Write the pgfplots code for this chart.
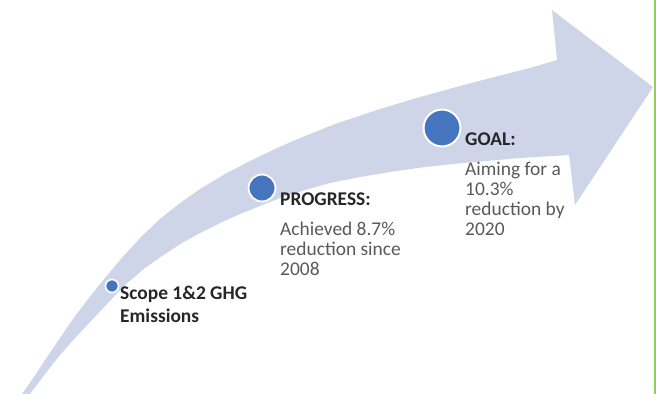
\documentclass[border=0pt]{standalone}
\usepackage{pgfplots}
\pgfplotsset{compat=1.18}
\usepackage{fontspec}
\setmainfont{Carlito}
\definecolor{arrowfill}{RGB}{207,213,232}
\definecolor{dotblue}{RGB}{70,117,192}
\definecolor{darktext}{RGB}{38,38,38}
\definecolor{bodytext}{RGB}{89,89,89}
\definecolor{edgegreen}{RGB}{146,208,80}
\begin{document}
\begin{tikzpicture}
\path[use as bounding box] (0,0) rectangle (656bp,394bp);
\begin{axis}[width=656bp,height=394bp,scale only axis,
  xmin=0,xmax=656,ymin=0,ymax=394,y dir=reverse,hide axis,clip=false,
  anchor=south west,at={(0,0)}]
% arrow shape
\addplot[fill=arrowfill,draw=none] coordinates {
(22,394)(34,377)(45,360)(58,341)(70,323)(85,303)(100,284)(120,260)(140,238)(160,219)(180,203)(200,189)(225,174)(250,161)(275,149)(300,138)(335,124)(380,109)(420,97)(460,86)(502,75)(530,68)(557,60)
(552,10)(653,87)(575,205)(569,155)
(520,158)(463,163)(425,167)(390,172)(360,177)(330,183)(305,190)(280,198)(260,206)(240,214)(220,223)(200,233)(182,243)(165,254)(145,268)(125,285)(108,303)(90,322)(75,338)(60,355)(45,374)(30,394)
} -- cycle;
% milestone dots
\addplot[only marks,mark=*,mark size=6.5pt,mark options={fill=dotblue,draw=white,line width=1.6pt}] coordinates {(112,286)};
\addplot[only marks,mark=*,mark size=13.5pt,mark options={fill=dotblue,draw=white,line width=1.8pt}] coordinates {(262,188)};
\addplot[only marks,mark=*,mark size=18.5pt,mark options={fill=dotblue,draw=white,line width=2pt}] coordinates {(442,128)};
% right border
\addplot[draw=edgegreen,line width=2.5bp] coordinates {(655,0) (655,394)};
\tikzset{every node/.style={inner sep=0pt,anchor=base west,font=\fontsize{19.5}{22}\selectfont}}
\node[text=darktext,font=\fontsize{19.5}{22}\selectfont\bfseries] at (axis cs:120,299) {Scope 1\&2 GHG};
\node[text=darktext,font=\fontsize{19.5}{22}\selectfont\bfseries] at (axis cs:120,322) {Emissions};
\node[text=darktext,font=\fontsize{19.5}{22}\selectfont\bfseries] at (axis cs:280,205) {PROGRESS:};
\node[text=bodytext] at (axis cs:280,235) {Achieved 8.7\%};
\node[text=bodytext] at (axis cs:280,255) {reduction since};
\node[text=bodytext] at (axis cs:280,275) {2008};
\node[text=darktext,font=\fontsize{19.5}{22}\selectfont\bfseries] at (axis cs:465,145) {GOAL:};
\node[text=bodytext] at (axis cs:465,175) {Aiming for a};
\node[text=bodytext] at (axis cs:465,195) {10.3\%};
\node[text=bodytext] at (axis cs:465,215) {reduction by};
\node[text=bodytext] at (axis cs:465,235) {2020};
\end{axis}
\end{tikzpicture}
\end{document}
